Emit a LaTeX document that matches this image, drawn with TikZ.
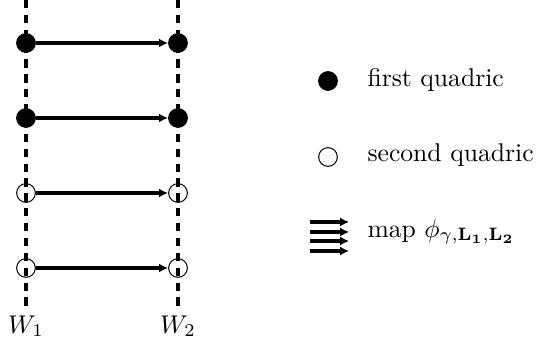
\documentclass[tikz,border=0pt]{standalone}
\usepackage{amsmath}
\usepackage{amssymb}
\usepackage{tikz}
\usetikzlibrary{positioning}
\usetikzlibrary{arrows.meta}
\definecolor{cb}{RGB}{0,0,0}
\definecolor{cbt}{RGB}{0,0,0}
\tikzstyle{first quadric}=[circle, draw=cb, fill=cb, inner sep=0pt, minimum size=7.3pt]
\tikzstyle{second quadric}=[circle, draw=cb, line width=0.4pt, inner sep=0pt, minimum size=7.3pt]
\tikzstyle{wall}=[cb, line width=1.6pt, dash pattern=on 3.2pt off 2.6pt]
\tikzstyle{label}=[cbt, anchor=base west, inner sep=0pt]
\tikzstyle{arrow}=[cb, line width=1.25pt, -{Latex[length=3.5pt,width=3.4pt]}]
\tikzstyle{legend arrow}=[cb, line width=1.5pt, -{Latex[length=3.5pt,width=3.6pt]}]

\begin{document}
\begin{tikzpicture}[x=0.39pt, y=0.39pt]
  \useasboundingbox (0,0) rectangle (541,343);
  % the two walls
  \coordinate (wall-1-top) at (26,343);
  \coordinate (wall-1-bot) at (26,35);
  \coordinate (wall-2-top) at (178,343);
  \coordinate (wall-2-bot) at (178,35);
  \draw [wall] (wall-1-top) -- (wall-1-bot);
  \draw [wall] (wall-2-top) -- (wall-2-bot);
  \node [cbt, anchor=base, inner sep=0pt] (w-1) at (26,10) {$W_1$};
  \node [cbt, anchor=base, inner sep=0pt] (w-2) at (178,10) {$W_2$};

  \foreach \y/\q [count=\i] in {300/first quadric,225/first quadric,150/second quadric,75/second quadric}{
    \node [\q] (left-\i) at (26,\y) {};
    \node [\q] (right-\i) at (178,\y) {};
    \draw [arrow] (left-\i) -- (right-\i);
  }

  % legend
  \node [first quadric] (key-1) at (328,262) {};
  \node [second quadric] (key-2) at (328,186) {};
  \node [label] (text-1) at (367,256) {first quadric};
  \node [label] (text-2) at (367,181) {second quadric};
  \foreach \y [count=\i] in {121,111,102,92}{
    \coordinate (map-a-\i) at (310,\y);
    \coordinate (map-b-\i) at (349,\y);
    \draw [legend arrow] (map-a-\i) -- (map-b-\i);
  }
  \node [label] (text-3) at (367,106) {map $\phi_{\gamma,\mathbf{L_1},\mathbf{L_2}}$};
\end{tikzpicture}
\end{document}
